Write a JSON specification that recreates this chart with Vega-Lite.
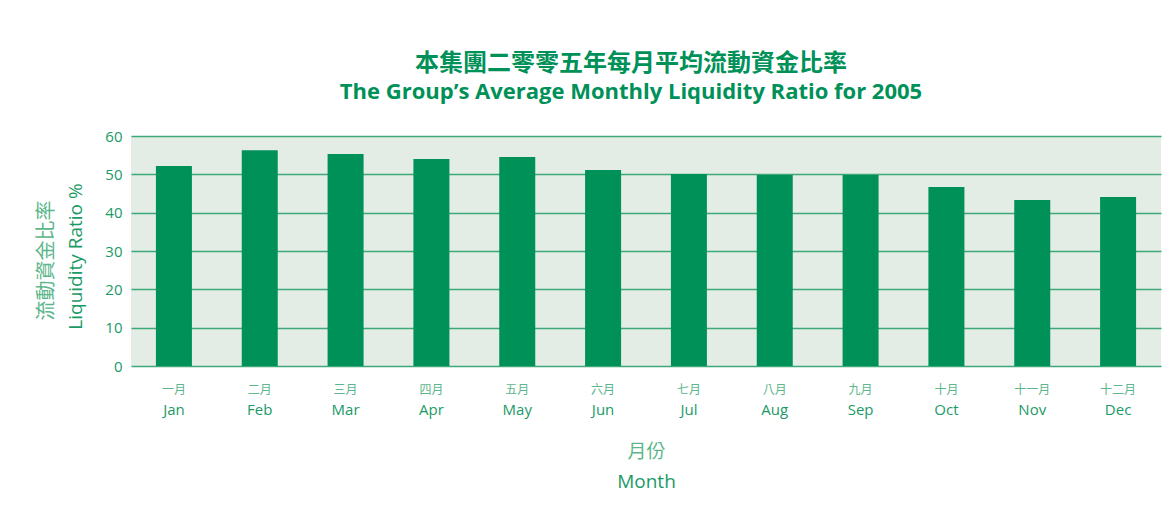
{
  "$schema": "https://vega.github.io/schema/vega-lite/v6.json",
  "width": 1030,
  "height": 230,
  "autosize": {"type": "none"},
  "padding": {"left": 131, "top": 136, "right": 3, "bottom": 141},
  "background": "white",
  "config": {
    "view": {"fill": "#e3ede6", "stroke": null},
    "font": "Open Sans"
  },
  "title": {
    "text": "本集團二零零五年每月平均流動資金比率",
    "subtitle": "The Group’s Average Monthly Liquidity Ratio for 2005",
    "font": "Noto Sans CJK TC",
    "fontSize": 24,
    "fontWeight": "bold",
    "color": "#009159",
    "subtitleFont": "Open Sans",
    "subtitleFontSize": 22,
    "subtitleFontWeight": "bold",
    "subtitleColor": "#009159",
    "subtitlePadding": 6,
    "anchor": "middle",
    "dx": -15,
    "offset": 26
  },
  "data": {
    "values": [
      {"cn": "一月", "month": "Jan", "ratio": 52.2},
      {"cn": "二月", "month": "Feb", "ratio": 56.3},
      {"cn": "三月", "month": "Mar", "ratio": 55.3},
      {"cn": "四月", "month": "Apr", "ratio": 54.0},
      {"cn": "五月", "month": "May", "ratio": 54.5},
      {"cn": "六月", "month": "Jun", "ratio": 51.1},
      {"cn": "七月", "month": "Jul", "ratio": 50.1},
      {"cn": "八月", "month": "Aug", "ratio": 49.8},
      {"cn": "九月", "month": "Sep", "ratio": 49.8},
      {"cn": "十月", "month": "Oct", "ratio": 46.7},
      {"cn": "十一月", "month": "Nov", "ratio": 43.3},
      {"cn": "十二月", "month": "Dec", "ratio": 44.1}
    ]
  },
  "layer": [
    {
      "mark": {"type": "bar", "size": 36, "color": "#009159"},
      "encoding": {
        "x": {
          "field": "month",
          "type": "nominal",
          "sort": null,
          "scale": {"paddingInner": 0, "paddingOuter": 0},
          "axis": {
            "orient": "bottom",
            "labelAngle": 0,
            "labelFontSize": 15,
            "labelColor": "#1a9a66",
            "labelPadding": 36,
            "ticks": false,
            "domain": false,
            "title": "Month",
            "titleFontSize": 19,
            "titleFontWeight": "normal",
            "titleColor": "#1a9a66",
            "titlePadding": 55
          }
        },
        "y": {
          "field": "ratio",
          "type": "quantitative",
          "scale": {"domain": [0, 60], "nice": false},
          "axis": {
            "orient": "left",
            "values": [0, 10, 20, 30, 40, 50, 60],
            "labelFontSize": 15,
            "labelColor": "#1a9a66",
            "labelPadding": 9,
            "ticks": false,
            "domain": false,
            "grid": true,
            "gridColor": "#3fa878",
            "gridWidth": 1.5,
            "title": "Liquidity Ratio %",
            "titleFontSize": 19,
            "titleFontWeight": "normal",
            "titleColor": "#1a9a66",
            "titlePadding": 19,
            "titleY": 120
          }
        }
      }
    },
    {
      "mark": {"type": "bar", "size": 36, "opacity": 0},
      "encoding": {
        "x": {
          "field": "cn",
          "type": "nominal",
          "sort": null,
          "scale": {"paddingInner": 0, "paddingOuter": 0},
          "axis": {
            "orient": "bottom",
            "labelAngle": 0,
            "labelFontSize": 12,
            "labelColor": "#5cb68c",
            "labelFont": "Noto Sans CJK TC",
            "labelPadding": 18,
            "ticks": false,
            "domain": false,
            "title": "月份",
            "titleFont": "Noto Sans CJK TC",
            "titleFontSize": 19,
            "titleFontWeight": "normal",
            "titleColor": "#5cb68c",
            "titlePadding": 47
          }
        },
        "y": {
          "field": "ratio",
          "type": "quantitative",
          "scale": {"domain": [0, 60], "nice": false},
          "axis": {
            "orient": "left",
            "values": [0, 10, 20, 30, 40, 50, 60],
            "labels": false,
            "ticks": false,
            "domain": false,
            "grid": false,
            "title": "流動資金比率",
            "titleFont": "Noto Sans CJK TC",
            "titleFontSize": 20,
            "titleFontWeight": "normal",
            "titleColor": "#5cb68c",
            "titlePadding": 75,
            "titleY": 124
          }
        }
      }
    }
  ],
  "resolve": {
    "scale": {"x": "independent", "y": "independent"},
    "axis": {"x": "independent", "y": "independent"}
  }
}
